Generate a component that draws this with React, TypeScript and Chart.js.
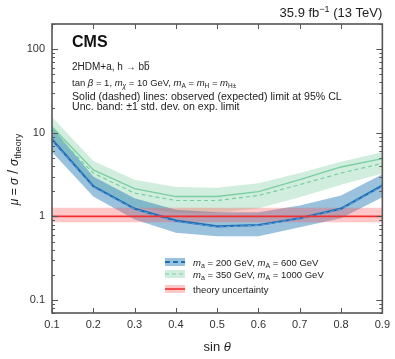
import React, { useEffect, useRef } from "react";
import { Chart, registerables } from "chart.js";

Chart.register(...registerables);

const sinTheta = [0.1, 0.2, 0.3, 0.4, 0.5, 0.6, 0.7, 0.8, 0.9];
const blueObs = [8.3, 2.3, 1.24, 0.89, 0.76, 0.79, 0.95, 1.24, 2.34];
const blueExp = [8.1, 2.25, 1.22, 0.87, 0.75, 0.78, 0.94, 1.22, 2.3];
const blueUp = [11.7, 3.0, 1.65, 1.2, 1.12, 1.12, 1.35, 1.78, 3.2];
const blueLo = [5.9, 1.73, 0.92, 0.64, 0.58, 0.58, 0.74, 0.95, 1.7];
const greenObs = [11.8, 3.6, 2.15, 1.73, 1.73, 1.98, 2.75, 3.9, 4.9];
const greenExp = [10.5, 3.3, 1.9, 1.55, 1.55, 1.78, 2.4, 3.3, 4.3];
const greenUp = [15.5, 4.6, 2.75, 2.25, 2.2, 2.5, 3.3, 4.5, 5.9];
const greenLo = [7.8, 2.4, 1.3, 1.1, 1.1, 1.25, 1.7, 2.4, 3.25];
const theoryX = [0.1, 0.9];
const theoryVal = [1, 1];
const theoryUp = [1.27, 1.27];
const theoryLo = [0.85, 0.85];
const yMajor = [0.1, 1, 10, 100];
const xTicks = [0.1, 0.2, 0.3, 0.4, 0.5, 0.6, 0.7, 0.8, 0.9];

const FONT = '"Liberation Sans", Arial, Helvetica, sans-serif';
const BLUE = "#1f6fb4";
const BLUE_BAND = "rgba(31,119,180,0.45)";
const GREEN = "#78cfa0";
const GREEN_BAND = "rgba(110,200,150,0.32)";
const RED = "#f03030";
const RED_BAND = "rgba(255,80,80,0.32)";
const FRAME = "#555555";

type Seg = { t: string; size: number; italic?: boolean; bold?: boolean; dy?: number; bar?: boolean };

function segFont(s: Seg) {
  return `${s.italic ? "italic " : ""}${s.bold ? "bold " : ""}${s.size}px ${FONT}`;
}

function drawRich(ctx: CanvasRenderingContext2D, x: number, y: number, segs: Seg[], align: "left" | "right" | "center", color = "#222") {
  let total = 0;
  for (const s of segs) {
    ctx.font = segFont(s);
    total += ctx.measureText(s.t).width;
  }
  let cx = align === "left" ? x : align === "right" ? x - total : x - total / 2;
  ctx.fillStyle = color;
  ctx.strokeStyle = color;
  ctx.textAlign = "left";
  ctx.textBaseline = "alphabetic";
  for (const s of segs) {
    ctx.font = segFont(s);
    const w = ctx.measureText(s.t).width;
    ctx.fillText(s.t, cx, y + (s.dy || 0));
    if (s.bar) {
      ctx.lineWidth = 0.8;
      ctx.beginPath();
      const by = y + (s.dy || 0) - s.size * 0.82;
      ctx.moveTo(cx + 0.5, by);
      ctx.lineTo(cx + w - 0.5, by);
      ctx.stroke();
    }
    cx += w;
  }
}

const decorPlugin = {
  id: "decor",
  afterDatasetsDraw(chart: any) {
    const ctx: CanvasRenderingContext2D = chart.ctx;
    const { left, right, top, bottom } = chart.chartArea;
    const xs = chart.scales.x;
    const ys = chart.scales.y;
    ctx.save();
    ctx.strokeStyle = FRAME;
    ctx.lineWidth = 1;
    for (let d = -2; d <= 2; d++) {
      for (let m = 1; m <= 9; m++) {
        const v = m * Math.pow(10, d);
        if (v < ys.min || v > ys.max) continue;
        const py = Math.round(ys.getPixelForValue(v)) + 0.5;
        const len = m === 1 ? 6 : 3;
        ctx.beginPath();
        ctx.moveTo(left, py);
        ctx.lineTo(left + len, py);
        ctx.moveTo(right, py);
        ctx.lineTo(right - len, py);
        ctx.stroke();
      }
    }
    for (const v of xTicks) {
      const px = Math.round(xs.getPixelForValue(v)) + 0.5;
      ctx.beginPath();
      ctx.moveTo(px, bottom);
      ctx.lineTo(px, bottom - 5);
      ctx.moveTo(px, top);
      ctx.lineTo(px, top + 5);
      ctx.stroke();
    }
    ctx.lineWidth = 1.6;
    ctx.strokeRect(left, top, right - left, bottom - top);
    ctx.restore();
  },
  afterDraw(chart: any) {
    const ctx: CanvasRenderingContext2D = chart.ctx;
    const { left, right, top, bottom } = chart.chartArea;
    ctx.save();
    drawRich(ctx, right, 17, [
      { t: "35.9 fb", size: 13 },
      { t: "\u22121", size: 9, dy: -5 },
      { t: " (13 TeV)", size: 13 },
    ], "right");
    const tx = left + 20;
    drawRich(ctx, tx, 47, [{ t: "CMS", size: 16, bold: true }], "left", "#111");
    drawRich(ctx, tx, 70, [
      { t: "2HDM+a, h \u2192 b", size: 10 },
      { t: "b", size: 10, bar: true },
    ], "left");
    drawRich(ctx, tx, 86, [
      { t: "tan ", size: 9.5 },
      { t: "\u03b2", size: 9.5, italic: true },
      { t: " = 1, ", size: 9.5 },
      { t: "m", size: 9.5, italic: true },
      { t: "\u03c7", size: 6.5, italic: true, dy: 2 },
      { t: " = 10 GeV, ", size: 9.5 },
      { t: "m", size: 9.5, italic: true },
      { t: "A", size: 6.5, dy: 2 },
      { t: " = ", size: 9.5 },
      { t: "m", size: 9.5, italic: true },
      { t: "H", size: 6.5, dy: 2 },
      { t: " = ", size: 9.5 },
      { t: "m", size: 9.5, italic: true },
      { t: "H\u00b1", size: 6.5, dy: 2 },
    ], "left");
    drawRich(ctx, tx, 100, [{ t: "Solid (dashed) lines: observed (expected) limit at 95% CL", size: 10.6 }], "left");
    drawRich(ctx, tx, 109.5, [{ t: "Unc. band: \u00b11 std. dev. on exp. limit", size: 10.6 }], "left");

    const rows = [
      { y: 262, band: BLUE_BAND, line: BLUE, dash: [5, 3], w: 2.2,
        segs: [{ t: "m", size: 9.5, italic: true }, { t: "a", size: 7, dy: 2 }, { t: " = 200 GeV, ", size: 9.5 }, { t: "m", size: 9.5, italic: true }, { t: "A", size: 7, dy: 2 }, { t: " = 600 GeV", size: 9.5 }] },
      { y: 274, band: GREEN_BAND, line: GREEN, dash: [4, 3], w: 1.2,
        segs: [{ t: "m", size: 9.5, italic: true }, { t: "a", size: 7, dy: 2 }, { t: " = 350 GeV, ", size: 9.5 }, { t: "m", size: 9.5, italic: true }, { t: "A", size: 7, dy: 2 }, { t: " = 1000 GeV", size: 9.5 }] },
      { y: 289, band: RED_BAND, line: RED, dash: [], w: 1.6,
        segs: [{ t: "theory uncertainty", size: 9.5 }] },
    ];
    for (const r of rows) {
      ctx.fillStyle = r.band;
      ctx.fillRect(165, r.y - 4, 20, 8);
      ctx.strokeStyle = r.line;
      ctx.lineWidth = r.w;
      ctx.setLineDash(r.dash);
      ctx.beginPath();
      ctx.moveTo(165, r.y);
      ctx.lineTo(185, r.y);
      ctx.stroke();
      ctx.setLineDash([]);
      drawRich(ctx, 193, r.y + 3.5, r.segs as Seg[], "left");
    }

    ctx.save();
    ctx.translate(18, (top + bottom) / 2 + 1);
    ctx.rotate(-Math.PI / 2);
    drawRich(ctx, 0, 0, [
      { t: "\u03bc", size: 12, italic: true },
      { t: " = ", size: 12 },
      { t: "\u03c3", size: 12, italic: true },
      { t: " / ", size: 14 },
      { t: "\u03c3", size: 12, italic: true },
      { t: "theory", size: 9, dy: 3 },
    ], "center");
    ctx.restore();

    drawRich(ctx, (left + right) / 2, 351, [
      { t: "sin ", size: 13 },
      { t: "\u03b8", size: 13, italic: true },
    ], "center");
    ctx.restore();
  },
};

function pts(xv: number[], yv: number[]) {
  return xv.map((x, i) => ({ x, y: yv[i] }));
}

export default function App() {
  const ref = useRef<HTMLCanvasElement | null>(null);
  useEffect(() => {
    if (!ref.current) return;
    const base = { pointRadius: 0, tension: 0 };
    const chart = new Chart(ref.current, {
      type: "line",
      data: {
        datasets: [
          { ...base, data: pts(sinTheta, greenUp), borderWidth: 0, borderColor: "transparent", backgroundColor: GREEN_BAND, fill: "+1", order: 10 },
          { ...base, data: pts(sinTheta, greenLo), borderWidth: 0, borderColor: "transparent", fill: false, order: 10 },
          { ...base, data: pts(sinTheta, blueUp), borderWidth: 0, borderColor: "transparent", backgroundColor: BLUE_BAND, fill: "+1", order: 9 },
          { ...base, data: pts(sinTheta, blueLo), borderWidth: 0, borderColor: "transparent", fill: false, order: 9 },
          { ...base, data: pts(theoryX, theoryUp), borderWidth: 0, borderColor: "transparent", backgroundColor: RED_BAND, fill: "+1", order: 8 },
          { ...base, data: pts(theoryX, theoryLo), borderWidth: 0, borderColor: "transparent", fill: false, order: 8 },
          { ...base, data: pts(sinTheta, greenObs), borderWidth: 1.3, borderColor: GREEN, fill: false, order: 7 },
          { ...base, data: pts(sinTheta, greenExp), borderWidth: 1.2, borderColor: GREEN, borderDash: [4, 3], fill: false, order: 7 },
          { ...base, data: pts(sinTheta, blueObs), borderWidth: 2.2, borderColor: BLUE, fill: false, order: 6 },
          { ...base, data: pts(sinTheta, blueExp), borderWidth: 1.2, borderColor: "#5b9bd5", borderDash: [4, 3], fill: false, order: 5 },
          { ...base, data: pts(theoryX, theoryVal), borderWidth: 1.6, borderColor: RED, fill: false, order: 4 },
        ],
      },
      options: {
        animation: false,
        responsive: false,
        maintainAspectRatio: false,
        layout: { padding: { top: 24, right: 12, left: 0, bottom: 0 } },
        plugins: { legend: { display: false }, tooltip: { enabled: false } },
        scales: {
          x: {
            type: "linear",
            min: 0.1,
            max: 0.9,
            afterBuildTicks: (s: any) => { s.ticks = xTicks.map((v) => ({ value: v })); },
            afterFit: (s: any) => { s.height = 46; },
            grid: { display: false, drawTicks: false },
            border: { display: false },
            ticks: {
              padding: 5,
              color: "#333",
              font: { family: FONT, size: 11 },
              maxRotation: 0,
              callback: (v: any) => Number(v).toFixed(1),
            },
          },
          y: {
            type: "logarithmic",
            min: 0.07,
            max: 200,
            afterBuildTicks: (s: any) => { s.ticks = yMajor.map((v) => ({ value: v, major: true })); },
            afterFit: (s: any) => { s.width = 52; },
            grid: { display: false, drawTicks: false },
            border: { display: false },
            ticks: {
              padding: 7,
              color: "#333",
              font: { family: FONT, size: 11 },
              callback: (v: any) => String(v),
            },
          },
        },
      },
      plugins: [decorPlugin],
    } as any);
    return () => chart.destroy();
  }, []);
  return (
    <div style={{ position: "absolute", left: 0, top: 0, width: 395, height: 359, background: "#fff" }}>
      <canvas ref={ref} width={395} height={359} style={{ display: "block" }} />
    </div>
  );
}
